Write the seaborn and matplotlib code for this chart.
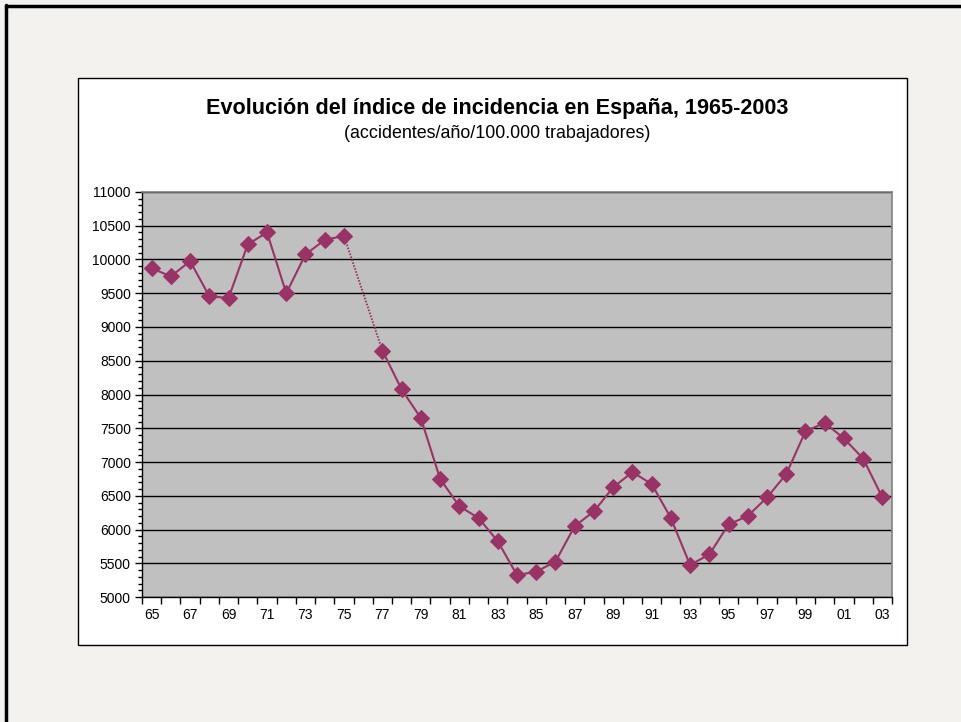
import numpy as np
import pandas as pd
import seaborn as sns
import matplotlib.pyplot as plt
from matplotlib.patches import Rectangle
from matplotlib.lines import Line2D
from matplotlib.ticker import MultipleLocator, FixedLocator

# Datos (1976 sin dato)
anios = ['65', '66', '67', '68', '69', '70', '71', '72', '73', '74', '75', '76', '77',
         '78', '79', '80', '81', '82', '83', '84', '85', '86', '87', '88', '89', '90',
         '91', '92', '93', '94', '95', '96', '97', '98', '99', '00', '01', '02', '03']
indice = [9870, 9750, 9975, 9455, 9430, 10225, 10400, 9500, 10075, 10290, 10350, None, 8650,
          8075, 7650, 6750, 6345, 6170, 5825, 5325, 5375, 5525, 6050, 6270, 6625, 6850,
          6675, 6170, 5475, 5630, 6075, 6200, 6475, 6820, 7455, 7580, 7350, 7050, 6475]

color = '#993366'

df = pd.DataFrame({'anio': anios, 'indice': indice})
df['pos'] = np.arange(len(df))
df['indice'] = df['indice'].astype(float)
hueco = df[df['indice'].isna()].index[0]
tramo1 = df.loc[:hueco - 1]
tramo2 = df.loc[hueco + 1:]

sns.set_style('white')
plt.rcParams['font.family'] = ['Liberation Sans', 'DejaVu Sans']
plt.rcParams['text.color'] = 'black'
plt.rcParams['xtick.color'] = 'black'
plt.rcParams['ytick.color'] = 'black'

fig = plt.figure(figsize=(9.61, 7.22), dpi=100)
fig.patch.set_facecolor('#F3F2EF')

# marco negro de la diapositiva y recuadro blanco del grafico
fig.add_artist(Line2D([0.006, 0.006], [0, 0.993], color='black', lw=2.5))
fig.add_artist(Line2D([0.006, 1], [0.992, 0.992], color='black', lw=2.5))
fig.patches.append(Rectangle((0.0812, 0.1066), 0.8626, 0.7853, transform=fig.transFigure,
                             facecolor='white', edgecolor='black', lw=1, zorder=-5))

ax = fig.add_axes([0.1478, 0.1731, 0.7804, 0.561])
ax.set_zorder(2)
ax.set_facecolor('#C0C0C0')

for t in (tramo1, tramo2):
    sns.lineplot(data=t, x='pos', y='indice', ax=ax, color=color, lw=1.5,
                 marker='D', markersize=8, markeredgecolor=color, zorder=3)
# tramo punteado sobre el año sin dato
ax.plot([df['pos'][hueco - 1], df['pos'][hueco + 1]],
        [df['indice'][hueco - 1], df['indice'][hueco + 1]],
        color=color, lw=1.4, ls=(0, (0.8, 0.8)), zorder=2)

ax.set_xlim(-0.5, len(df) - 0.5)
ax.set_ylim(5000, 11000)
ax.yaxis.set_major_locator(MultipleLocator(500))
ax.yaxis.set_minor_locator(MultipleLocator(100))
ax.grid(axis='y', which='major', color='black', lw=1)
ax.set_axisbelow(True)

ax.set_xticks(df['pos'][::2])
ax.set_xticklabels(df['anio'][::2])
ax.xaxis.set_minor_locator(FixedLocator(np.arange(-0.5, len(df), 1)))
ax.tick_params(axis='x', which='major', length=0, pad=8, labelsize=10)
ax.tick_params(axis='x', which='minor', length=5, width=1, direction='out', bottom=True)
ax.tick_params(axis='y', which='major', length=5, width=1, direction='out', left=True, labelsize=10, pad=3)
ax.tick_params(axis='y', which='minor', length=3, width=1, direction='out', left=True)
ax.set_xlabel('')
ax.set_ylabel('')

for s in ['left', 'bottom']:
    ax.spines[s].set_color('black')
    ax.spines[s].set_linewidth(1)
for s in ['top', 'right']:
    ax.spines[s].set_visible(True)
    ax.spines[s].set_color('#808080')
    ax.spines[s].set_linewidth(1.2)

fig.text(0.517, 0.850, 'Evolución del índice de incidencia en España, 1965-2003',
         ha='center', va='center', fontsize=15.6, fontweight='bold')
fig.text(0.517, 0.815, '(accidentes/año/100.000 trabajadores)',
         ha='center', va='center', fontsize=12.9)

fig.savefig('out.png', dpi=100, facecolor=fig.get_facecolor())
